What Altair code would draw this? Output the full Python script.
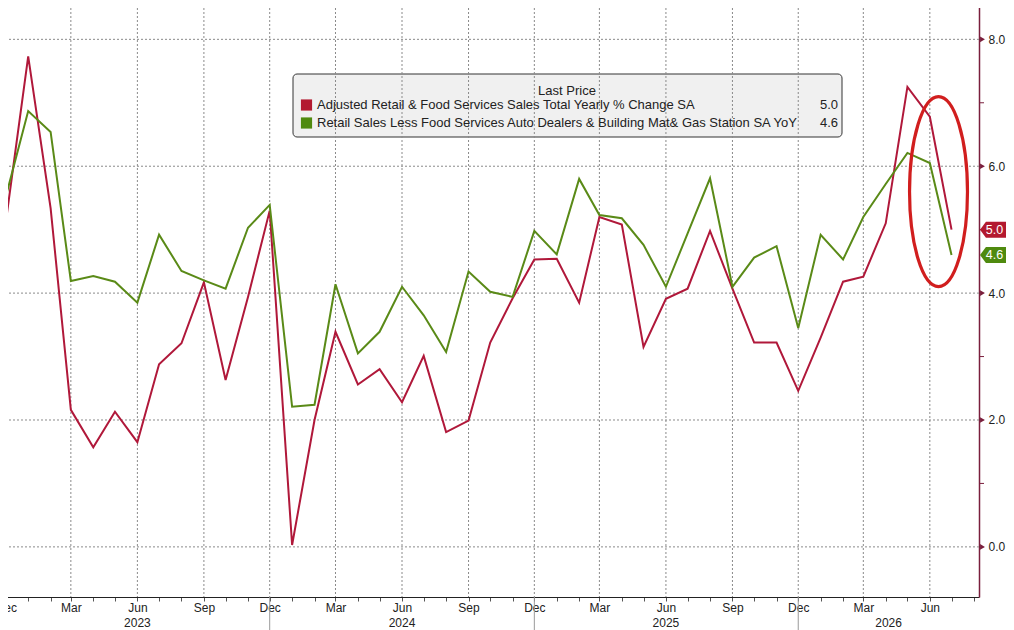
import altair as alt
import pandas as pd

# ---------------- data ----------------
months = [d.strftime("%Y-%m-%dT00:00:00") for d in pd.date_range("2022-11-01", "2026-07-01", freq="MS")]

retail_total = [5.70, 5.12, 7.73, 5.34, 2.16, 1.57, 2.13, 1.65, 2.88, 3.21, 4.17, 2.63, 3.94,
                5.30, 0.03, 2.00, 3.39, 2.56, 2.80, 2.28, 3.01, 1.81, 1.99, 3.22, 3.92,
                4.53, 4.54, 3.85, 5.20, 5.08, 3.15, 3.91, 4.07, 4.98, 4.07, 3.22, 3.22,
                2.46, 3.30, 4.18, 4.26, 5.10, 7.25, 6.78, 5.00]

retail_control = [5.00, 5.52, 6.87, 6.54, 4.19, 4.27, 4.18, 3.85, 4.92, 4.35, 4.20, 4.07, 5.03,
                  5.39, 2.21, 2.24, 4.14, 3.05, 3.39, 4.10, 3.65, 3.07, 4.34, 4.02, 3.94,
                  4.98, 4.61, 5.80, 5.23, 5.18, 4.76, 4.10, 4.94, 5.81, 4.10, 4.56, 4.74,
                  3.45, 4.92, 4.53, 5.20, 5.72, 6.21, 6.05, 4.60]

series_names = ["Adjusted Retail & Food Services Sales Total Yearly % Change SA",
                "Retail Sales Less Food Services Auto Dealers & Building Mat& Gas Station SA YoY"]
line_colors = ["#B0183A", "#5A8A17"]
tag_colors = ["#B3192F", "#4F8A0F"]
legend_title = "Last Price"

y_major = [0, 2, 4, 6, 8]
y_minor = [1, 3, 5, 7]
tick_months = pd.date_range("2022-12-01", "2026-08-01", freq="MS")
grid_months = [d.strftime("%Y-%m-%dT00:00:00") for d in pd.date_range("2022-12-01", "2026-06-01", freq="3MS")]
year_seps = ["2022-12-01T00:00:00", "2023-12-01T00:00:00", "2024-12-01T00:00:00", "2025-12-01T00:00:00"]
year_labels = ["2023", "2024", "2025", "2026"]
year_label_pos = ["2023-06-01T00:00:00", "2024-06-01T00:00:00", "2025-06-01T00:00:00", "2026-04-05T00:00:00"]

# highlight ellipse annotation (centre in data space)
ellipse_date = ["2026-06-13T00:00:00"]
ellipse_value = [5.6]

# ---------------- layout ----------------
W, H = 979, 597
MAROON = "#7A1E3C"
FONT = "Liberation Sans"

xscale = alt.Scale(domain=[alt.DateTime(year=2022, month=11, date=23),
                           alt.DateTime(year=2026, month=8, date=8)], nice=False)
yscale = alt.Scale(domain=[-0.79, 8.62], nice=False, zero=False)

x_axis = alt.Axis(
    values=[alt.DateTime(year=d.year, month=d.month, date=1) for d in tick_months],
    labelExpr="indexof([2,5,8,11], month(datum.value)) >= 0 ? timeFormat(datum.value, '%b') : ''",
    title=None, grid=False, tickSize=4, tickColor="#555555", domainColor="#222222",
    domainWidth=1, labelFontSize=12, labelPadding=1, labelColor="#222222",
    labelFlush=False, labelOverlap=False, labelFont=FONT)
y_axis = alt.Axis(
    orient="right", values=y_major, format=".1f", title=None, grid=False, ticks=False,
    domainColor=MAROON, domainWidth=1.5, labelPadding=9, labelFontSize=12,
    labelColor="#222222", labelFont=FONT)


def X(field):
    return alt.X(field, type="temporal", scale=xscale, axis=x_axis)


def Y(field):
    return alt.Y(field, type="quantitative", scale=yscale, axis=y_axis)


rows = []
for name, col, vals in zip(series_names, line_colors, [retail_total, retail_control]):
    for m, v in zip(months, vals):
        rows.append({"date": m, "value": v, "series": name, "color": col})
df = pd.DataFrame(rows)

last_df = pd.DataFrame({
    "series": series_names,
    "value": [retail_total[-1], retail_control[-1]],
    "tag": tag_colors,
    "color": line_colors,
    "row_y": [105, 123],
})

one = pd.DataFrame({"a": [0]})

# legend box (drawn first so the grid shows through it)
legend_box = alt.Chart(one).mark_rect(fill="#F0F0F0", stroke="#333333", strokeWidth=1,
                                       cornerRadius=4).encode(
    x=alt.value(293), x2=alt.value(842), y=alt.value(74), y2=alt.value(137))

vgrid = alt.Chart(pd.DataFrame({"date": grid_months})).mark_rule(
    color="#8a8a8a", strokeDash=[2, 2], strokeWidth=1).encode(x=X("date"))

hgrid = alt.Chart(pd.DataFrame({"v": y_major})).mark_rule(
    color="#8a8a8a", strokeDash=[2, 2], strokeWidth=1).encode(y=Y("v"))

lines = alt.Chart(df).mark_line(strokeWidth=2, clip=True).encode(
    x=X("date"), y=Y("value"),
    color=alt.Color("color:N", scale=None),
    detail="series:N")

ELLIPSE = ("M 0.305 0 C 0.305 0.5523 0.1685 1 0 1 C -0.1685 1 -0.305 0.5523 -0.305 0 "
           "C -0.305 -0.5523 -0.1685 -1 0 -1 C 0.1685 -1 0.305 -0.5523 0.305 0 Z")
ellipse = alt.Chart(pd.DataFrame({"date": ellipse_date, "value": ellipse_value})).mark_point(
    shape=ELLIPSE, size=36100, filled=False, stroke="#D11E1E", strokeWidth=3.2, opacity=1).encode(
    x=X("date"), y=Y("value"))

ysep = alt.Chart(pd.DataFrame({"date": year_seps})).mark_rule(color="#9a9a9a").encode(
    x=X("date"), y=alt.value(H), y2=alt.value(H + 35))

ytext = alt.Chart(pd.DataFrame({"date": year_label_pos, "label": year_labels})).mark_text(
    fontSize=12, color="#222222", baseline="middle", align="center", font=FONT).encode(
    x=X("date"), y=alt.value(H + 26), text="label:N")

minor = alt.Chart(pd.DataFrame({"v": y_minor})).mark_rule(color=MAROON, strokeWidth=1).encode(
    x=alt.value(W), x2=alt.value(W + 5), y=Y("v"))

tri = alt.Chart(pd.DataFrame({"v": y_major})).mark_point(
    shape="triangle-right", filled=True, size=32, color=MAROON, opacity=1).encode(
    x=alt.value(W + 3.5), y=Y("v"))

TAG = "M -1 0 L -0.65 -0.47 L 1 -0.47 L 1 0.47 L -0.65 0.47 Z"
tags = alt.Chart(last_df).mark_point(shape=TAG, size=1156, filled=True, opacity=1,
                                     strokeWidth=0).encode(
    x=alt.value(997), y=Y("value"),
    fill=alt.Fill("tag:N", scale=None))

tag_text = alt.Chart(last_df).mark_text(color="white", fontSize=12.5, align="center",
                                        baseline="middle", font=FONT).encode(
    x=alt.value(994.5), y=Y("value"),
    text=alt.Text("value:Q", format=".1f"))

leg_title = alt.Chart(pd.DataFrame({"t": [legend_title]})).mark_text(
    fontSize=13, color="#222222", align="center", baseline="middle", font=FONT).encode(
    x=alt.value(567), y=alt.value(91), text="t:N")

leg_sq = alt.Chart(last_df).mark_square(size=125, filled=True, opacity=1).encode(
    x=alt.value(306.5), y=alt.Y("row_y:Q", scale=None),
    color=alt.Color("tag:N", scale=None))

leg_names = alt.Chart(last_df).mark_text(fontSize=13, color="#222222", align="left",
                                         baseline="middle", font=FONT).encode(
    x=alt.value(317), y=alt.Y("row_y:Q", scale=None), text="series:N")

leg_vals = alt.Chart(last_df).mark_text(fontSize=13, color="#222222", align="right",
                                        baseline="middle", font=FONT).encode(
    x=alt.value(838), y=alt.Y("row_y:Q", scale=None),
    text=alt.Text("value:Q", format=".1f"))

chart = alt.layer(
    legend_box, vgrid, hgrid, lines, ellipse, ysep, ytext, minor, tri,
    tags, tag_text, leg_title, leg_sq, leg_names, leg_vals
).properties(
    width=W, height=H,
    padding={"left": -8, "top": -8, "right": 27, "bottom": 33},
    autosize=alt.AutoSizeParams(type="none"),
    background="white",
).configure(font=FONT).configure_view(stroke=None)

chart.save("out.html", embed_options={"renderer": "svg", "actions": False})
